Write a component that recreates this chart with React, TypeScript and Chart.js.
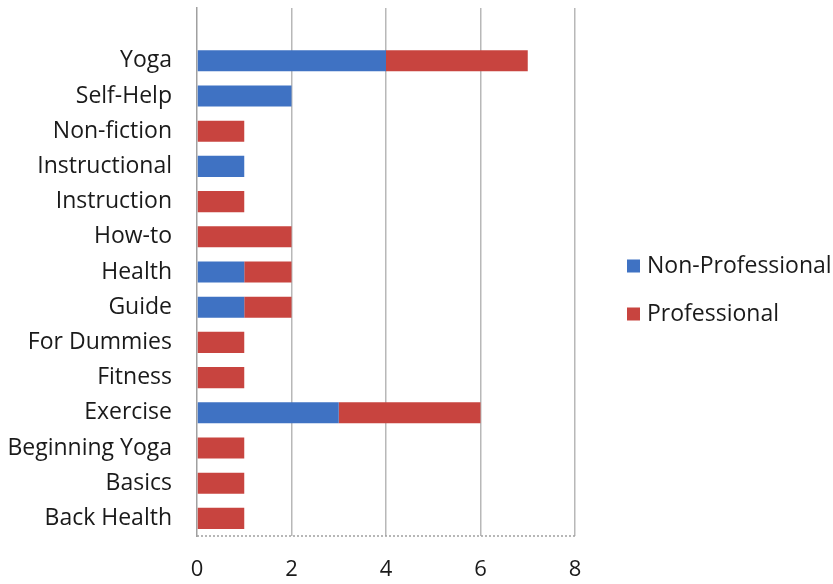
import React, { useEffect, useRef } from "react";
import { Chart, registerables } from "chart.js";

Chart.register(...registerables);

const categories = [
  "",
  "Yoga",
  "Self-Help",
  "Non-fiction",
  "Instructional",
  "Instruction",
  "How-to",
  "Health",
  "Guide",
  "For Dummies",
  "Fitness",
  "Exercise",
  "Beginning Yoga",
  "Basics",
  "Back Health",
];
const nonProfessional = [null, 4, 2, 0, 1, 0, 0, 1, 1, 0, 0, 3, 0, 0, 0];
const professional = [null, 3, 0, 1, 0, 1, 2, 1, 1, 1, 1, 3, 1, 1, 1];
const seriesNames = ["Non-Professional", "Professional"];
const xTicks = [0, 2, 4, 6, 8];

const BLUE = "#3f72c3";
const RED = "#c8443f";
const FONT = "'Open Sans', 'Liberation Sans', sans-serif";
const TEXT = "#1a1a1a";

const legendPlugin = {
  id: "customLegend",
  afterDraw(chart: any) {
    const ctx = chart.ctx;
    const ca = chart.chartArea;
    ctx.save();
    // dotted bottom border
    ctx.strokeStyle = "#a0a0a0";
    ctx.lineWidth = 1.5;
    ctx.setLineDash([2, 2]);
    ctx.beginPath();
    ctx.moveTo(ca.left, ca.bottom);
    ctx.lineTo(ca.right, ca.bottom);
    ctx.stroke();
    ctx.setLineDash([]);
    // legend
    const x0 = 627;
    const ys = [266, 314];
    ctx.font = `23px ${FONT}`;
    ctx.textBaseline = "middle";
    ctx.textAlign = "left";
    chart.data.datasets.forEach((ds: any, i: number) => {
      ctx.fillStyle = ds.backgroundColor;
      ctx.fillRect(x0, ys[i] - 6.5, 13, 13);
      ctx.fillStyle = TEXT;
      ctx.fillText(ds.label, x0 + 20, ys[i]);
    });
    ctx.restore();
  },
};

export default function App() {
  const ref = useRef<HTMLCanvasElement | null>(null);
  useEffect(() => {
    if (!ref.current) return;
    const chart = new Chart(ref.current, {
      type: "bar",
      data: {
        labels: categories,
        datasets: [
          {
            label: seriesNames[0],
            data: nonProfessional,
            backgroundColor: BLUE,
            barPercentage: 0.6,
            categoryPercentage: 1,
          },
          {
            label: seriesNames[1],
            data: professional,
            backgroundColor: RED,
            barPercentage: 0.6,
            categoryPercentage: 1,
          },
        ],
      },
      options: {
        indexAxis: "y",
        responsive: false,
        animation: false,
        layout: { padding: { top: 8, right: 258, left: 0, bottom: 0 } },
        plugins: {
          legend: { display: false },
          tooltip: { enabled: false },
        },
        scales: {
          x: {
            stacked: true,
            min: 0,
            max: 8,
            afterBuildTicks: (scale: any) => {
              scale.ticks = xTicks.map((v) => ({ value: v }));
            },
            afterFit: (scale: any) => {
              scale.height = 48;
              scale.paddingLeft = 0;
              scale.paddingRight = 0;
            },
            grid: {
              color: (c: any) => (c.tick && c.tick.value === 0 ? "rgba(0,0,0,0)" : "#b8b8b8"),
              lineWidth: 1.5,
              drawTicks: false,
            },
            border: { display: false },
            ticks: {
              padding: 21,
              color: TEXT,
              font: { family: FONT, size: 22 },
            },
          },
          y: {
            stacked: true,
            afterFit: (scale: any) => {
              scale.width = 197;
              scale.paddingTop = 0;
              scale.paddingBottom = 0;
            },
            grid: { display: false, drawTicks: false },
            border: { display: true, color: "#a0a0a0", width: 1.5, dash: [2, 2] },
            ticks: {
              padding: 25,
              color: TEXT,
              font: { family: FONT, size: 23 },
              autoSkip: false,
            },
          },
        },
      },
      plugins: [legendPlugin],
    });
    return () => chart.destroy();
  }, []);
  return (
    <div style={{ position: "absolute", left: 0, top: 0, width: 833, height: 584, background: "#fff" }}>
      <canvas ref={ref} width={833} height={584} style={{ display: "block" }} />
    </div>
  );
}
